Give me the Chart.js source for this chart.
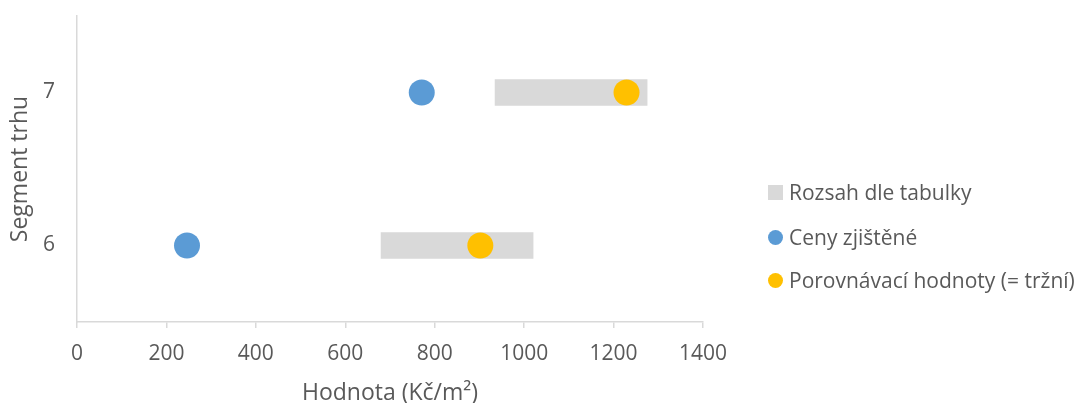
<!DOCTYPE html>
<html>
<head>
<meta charset="utf-8">
<script src="https://cdn.jsdelivr.net/npm/chart.js@4.4.1/dist/chart.umd.min.js"></script>
<style>
  html, body { margin: 0; padding: 0; background: #fff; }
  #wrap { position: relative; width: 1078px; height: 403px; overflow: hidden; }
  #chart { position: absolute; left: 0; top: 0; }
  #legend { position: absolute; left: 0; top: 0; font-family: "Open Sans", sans-serif; font-size: 21px; color: #595959; }
  .item { position: absolute; left: 768px; height: 30px; display: flex; align-items: center; white-space: nowrap; }
  .swatch { width: 15px; height: 15px; margin-right: 6px; flex: none; }
</style>
</head>
<body>
<div id="wrap">
  <canvas id="chart" width="1078" height="403"></canvas>
  <div id="legend"></div>
</div>
<script>
// Market segments shown on the vertical axis
const segments = [6, 7];
// Price range from the table (Kč/m²)
const rangeLow = [680, 935];
const rangeHigh = [1020, 1275];
// Observed prices
const foundPrices = [246, 771];
// Comparative (market) values
const marketValues = [902, 1229];
// Horizontal axis ticks
const xTicks = [0, 200, 400, 600, 800, 1000, 1200, 1400];

const seriesNames = ['Rozsah dle tabulky', 'Ceny zjištěné', 'Porovnávací hodnoty (= tržní)'];
const colors = ['#D9D9D9', '#5B9BD5', '#FFC000'];
const textColor = '#595959';
const axisColor = '#D9D9D9';
const fontFamily = '"Open Sans", sans-serif';

const datasets = [
  {
    type: 'bar',
    label: seriesNames[0],
    indexAxis: 'y',
    data: segments.map((s, i) => ({ x: [rangeLow[i], rangeHigh[i]], y: s })),
    backgroundColor: colors[0],
    borderWidth: 0,
    barThickness: 26,
    order: 3
  },
  {
    type: 'scatter',
    label: seriesNames[1],
    data: segments.map((s, i) => ({ x: foundPrices[i], y: s })),
    backgroundColor: colors[1],
    borderWidth: 0,
    pointRadius: 13,
    pointHoverRadius: 13,
    order: 2
  },
  {
    type: 'scatter',
    label: seriesNames[2],
    data: segments.map((s, i) => ({ x: marketValues[i], y: s })),
    backgroundColor: colors[2],
    borderWidth: 0,
    pointRadius: 13,
    pointHoverRadius: 13,
    order: 1
  }
];

new Chart(document.getElementById('chart'), {
  type: 'scatter',
  data: { datasets },
  options: {
    responsive: false,
    animation: false,
    devicePixelRatio: 1,
    layout: { padding: { top: 16, right: 375, left: 0, bottom: 0 } },
    plugins: { legend: { display: false }, tooltip: { enabled: false } },
    scales: {
      x: {
        type: 'linear',
        min: xTicks[0],
        max: xTicks[xTicks.length - 1],
        afterBuildTicks: (scale) => { scale.ticks = xTicks.map(v => ({ value: v })); },
        afterFit: (scale) => { scale.height = 81; },
        grid: { display: true, drawOnChartArea: false, drawTicks: true, tickLength: 6, color: axisColor, lineWidth: 1.5 },
        border: { display: true, color: axisColor, width: 1.5 },
        ticks: { color: textColor, font: { family: fontFamily, size: 21 }, padding: 13, maxRotation: 0, callback: (v) => String(v) },
        title: { display: true, text: 'Hodnota (Kč/m²)', color: textColor, font: { family: fontFamily, size: 23, lineHeight: 1 }, padding: { top: 0, bottom: -2 } }
      },
      y: {
        type: 'linear',
        min: 5.5,
        max: 7.5,
        offset: false,
        afterBuildTicks: (scale) => { scale.ticks = segments.map(v => ({ value: v })); },
        afterFit: (scale) => {
          scale.width = 77;
          // the end ticks sit well inside the range, so no extra room is needed above or below
          scale.paddingTop = 0;
          scale.paddingBottom = 0;
        },
        grid: { display: false, offset: false, drawTicks: false },
        border: { display: true, color: axisColor, width: 1.5 },
        ticks: { color: textColor, font: { family: fontFamily, size: 21 }, padding: 22, callback: (v) => String(v) },
        title: { display: true, text: 'Segment trhu', color: textColor, font: { family: fontFamily, size: 23 }, padding: { top: 7, bottom: 0 } }
      }
    }
  }
});

// Legend beside the plot, built from the dataset labels and colours
const legend = document.getElementById('legend');
const legendTops = [177, 222, 265];
datasets.forEach((ds, i) => {
  const item = document.createElement('div');
  item.className = 'item';
  item.style.top = legendTops[i] + 'px';
  const sw = document.createElement('span');
  sw.className = 'swatch';
  sw.style.background = ds.backgroundColor;
  if (ds.type !== 'bar') sw.style.borderRadius = '50%';
  const tx = document.createElement('span');
  tx.textContent = ds.label;
  item.appendChild(sw);
  item.appendChild(tx);
  legend.appendChild(item);
});
</script>
</body>
</html>
